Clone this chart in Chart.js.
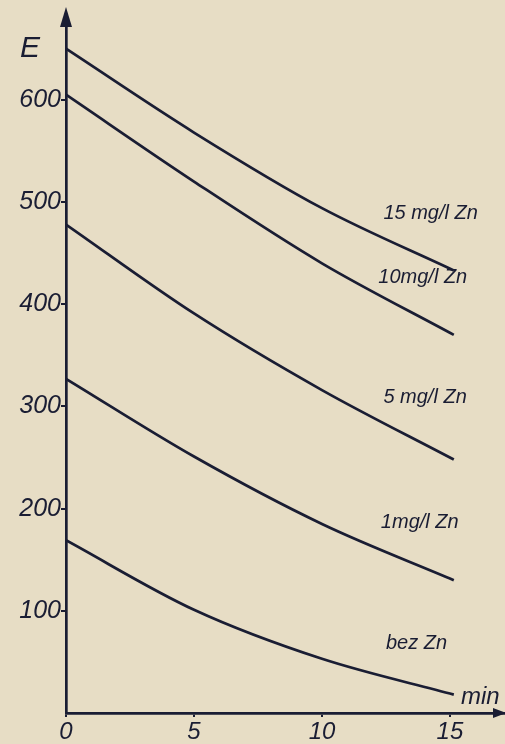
<!DOCTYPE html>
<html>
<head>
<meta charset="utf-8">
<script src="https://cdn.jsdelivr.net/npm/chart.js@4"></script>
<style>
  html, body { margin: 0; padding: 0; background: #e7ddc5; }
  #wrap { width: 505px; height: 744px; }
</style>
</head>
<body>
<div id="wrap"><canvas id="chart"></canvas></div>
<script>
    // time in minutes, extinction E per zinc concentration
    const minutes = [0, 5, 10, 15.15];
    const zn15 = [650, 568, 494, 433];
    const zn10 = [605, 520, 440, 370];
    const zn5 = [478, 391, 316, 248];
    const zn1 = [327, 251, 185, 130];
    const bezZn = [169, 101, 53, 18];

    const seriesLabels = ['15 mg/l Zn', '10mg/l Zn', '5 mg/l Zn', '1mg/l Zn', 'bez Zn'];
    const labelSpots = [[12.4, 489], [12.2, 426], [12.4, 309], [12.3, 186], [12.5, 68]];
    const yTicks = [100, 200, 300, 400, 500, 600];
    const xTicks = [0, 5, 10, 15];

    const ink = '#1a1d33';
    const font = '"Liberation Sans", Arial, sans-serif';

    function toPoints(ys) {
      return ys.map((y, i) => ({ x: minutes[i], y }));
    }

    const annotations = {
      id: 'annotations',
      afterDraw(chart) {
        const ctx = chart.ctx;
        const xs = chart.scales.x;
        const ys = chart.scales.y;
        const left = xs.getPixelForValue(0);
        const bottom = ys.getPixelForValue(0);
        const top = chart.chartArea.top;
        const right = chart.chartArea.right;

        ctx.save();
        ctx.fillStyle = ink;
        // arrow heads
        ctx.beginPath();
        ctx.moveTo(left, top - 8);
        ctx.lineTo(left - 6, top + 12);
        ctx.lineTo(left + 6, top + 12);
        ctx.closePath();
        ctx.fill();
        ctx.beginPath();
        ctx.moveTo(right + 1, bottom);
        ctx.lineTo(right - 12, bottom - 5);
        ctx.lineTo(right - 12, bottom + 5);
        ctx.closePath();
        ctx.fill();

        ctx.font = 'italic 30px ' + font;
        ctx.textAlign = 'left';
        ctx.textBaseline = 'middle';
        ctx.fillText('E', 20, 49);
        ctx.font = 'italic 24px ' + font;
        ctx.fillText('min', 461, 697);

        ctx.font = 'italic 20px ' + font;
        seriesLabels.forEach((t, i) => {
          const [vx, vy] = labelSpots[i];
          ctx.fillText(t, xs.getPixelForValue(vx), ys.getPixelForValue(vy));
        });
        ctx.restore();
      }
    };

    const lineStyle = {
      borderColor: ink,
      borderWidth: 2.7,
      pointRadius: 0,
      fill: false,
      cubicInterpolationMode: 'monotone'
    };

    new Chart(document.getElementById('chart'), {
      type: 'line',
      data: {
        datasets: [zn15, zn10, zn5, zn1, bezZn].map((s, i) => ({
          label: seriesLabels[i],
          data: toPoints(s),
          ...lineStyle
        }))
      },
      options: {
        responsive: true,
        maintainAspectRatio: false,
        animation: false,
        layout: { padding: { top: 15, right: 0, left: 0, bottom: 0 } },
        plugins: { legend: { display: false }, tooltip: { enabled: false } },
        scales: {
          x: {
            type: 'linear',
            min: 0,
            max: 17.15,
            afterFit: s => { s.height = 31; },
            afterBuildTicks: s => { s.ticks = xTicks.map(v => ({ value: v })); },
            grid: { drawOnChartArea: false, drawTicks: true, tickLength: 4, color: ink, lineWidth: 2 },
            border: { color: ink, width: 2.7 },
            ticks: { color: ink, font: { family: font, style: 'italic', size: 24 }, padding: 1, maxRotation: 0 }
          },
          y: {
            type: 'linear',
            min: 0,
            max: 683,
            afterFit: s => { s.width = 66; },
            afterBuildTicks: s => { s.ticks = yTicks.map(v => ({ value: v })); },
            grid: { drawOnChartArea: false, drawTicks: true, tickLength: 5, color: ink, lineWidth: 2 },
            border: { color: ink, width: 2.7 },
            ticks: { color: ink, font: { family: font, style: 'italic', size: 25 }, padding: 0 }
          }
        }
      },
      plugins: [annotations]
    });
</script>
</body>
</html>
